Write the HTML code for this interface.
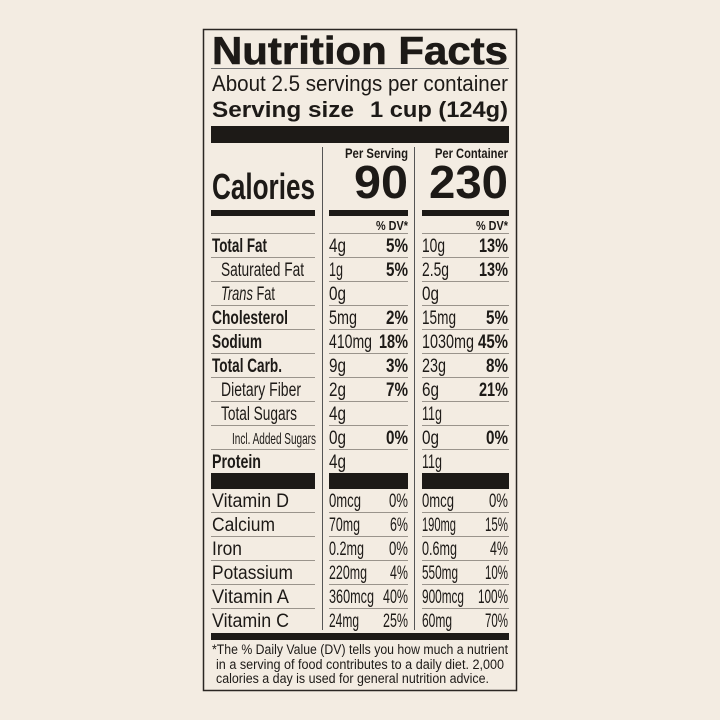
<!DOCTYPE html>
<html><head><meta charset="utf-8"><style>
html,body{margin:0;padding:0;background:#f3ece2;}
svg{display:block}
text{font-family:"Liberation Sans",sans-serif;fill:#1d1a17}
.b{font-weight:bold}
</style></head><body>
<svg width="720" height="720" viewBox="0 0 720 720">
<rect width="720" height="720" fill="#f3ece2"/>
<rect x="203.5" y="29.5" width="313" height="661" fill="none" stroke="#2a2622" stroke-width="1.5"/>
<text x="212" y="64" class="b" font-size="39" textLength="296" lengthAdjust="spacingAndGlyphs" stroke="#1d1a17" stroke-width="0.6">Nutrition Facts</text>
<rect x="211" y="68" width="298" height="1" fill="#777"/>
<text x="212" y="91" font-size="22" textLength="296" lengthAdjust="spacingAndGlyphs">About 2.5 servings per container</text>
<text x="212" y="117" class="b" font-size="22" textLength="142" lengthAdjust="spacingAndGlyphs">Serving size</text>
<text x="508" y="117" class="b" font-size="22" text-anchor="end" textLength="138" lengthAdjust="spacingAndGlyphs">1 cup (124g)</text>
<rect x="211" y="126" width="298" height="17" fill="#1d1a17"/>
<rect x="322" y="147" width="1" height="483" fill="#555"/>
<rect x="414" y="147" width="1" height="483" fill="#555"/>
<text x="408" y="158" class="b" font-size="14" text-anchor="end" textLength="63" lengthAdjust="spacingAndGlyphs">Per Serving</text>
<text x="508" y="158" class="b" font-size="14" text-anchor="end" textLength="73" lengthAdjust="spacingAndGlyphs">Per Container</text>
<text x="212" y="199" class="b" font-size="36" textLength="103" lengthAdjust="spacingAndGlyphs">Calories</text>
<text x="408" y="198" class="b" font-size="46" text-anchor="end" textLength="54" lengthAdjust="spacingAndGlyphs">90</text>
<text x="508" y="198" class="b" font-size="46" text-anchor="end" textLength="79" lengthAdjust="spacingAndGlyphs">230</text>
<rect x="211" y="210" width="104" height="6" fill="#1d1a17"/>
<rect x="329" y="210" width="79" height="6" fill="#1d1a17"/>
<rect x="422" y="210" width="87" height="6" fill="#1d1a17"/>
<text x="408" y="230" class="b" font-size="13" text-anchor="end" textLength="32" lengthAdjust="spacingAndGlyphs">% DV*</text>
<text x="508" y="230" class="b" font-size="13" text-anchor="end" textLength="32" lengthAdjust="spacingAndGlyphs">% DV*</text>
<g fill="#9a948c">
<rect x="211" y="233" width="104" height="1"/><rect x="329" y="233" width="79" height="1"/><rect x="422" y="233" width="87" height="1"/>
</g>
<g id="rows" font-size="19">
<text x="212" y="252" class="b" textLength="55" lengthAdjust="spacingAndGlyphs">Total Fat</text>
<text x="329" y="252" textLength="17" lengthAdjust="spacingAndGlyphs">4g</text>
<text x="408" y="252" class="b" text-anchor="end" textLength="22" lengthAdjust="spacingAndGlyphs">5%</text>
<text x="422" y="252" textLength="23" lengthAdjust="spacingAndGlyphs">10g</text>
<text x="508" y="252" class="b" text-anchor="end" textLength="29" lengthAdjust="spacingAndGlyphs">13%</text>

<text x="221" y="276" textLength="83" lengthAdjust="spacingAndGlyphs">Saturated Fat</text>
<text x="329" y="276" textLength="14" lengthAdjust="spacingAndGlyphs">1g</text>
<text x="408" y="276" class="b" text-anchor="end" textLength="22" lengthAdjust="spacingAndGlyphs">5%</text>
<text x="422" y="276" textLength="27" lengthAdjust="spacingAndGlyphs">2.5g</text>
<text x="508" y="276" class="b" text-anchor="end" textLength="29" lengthAdjust="spacingAndGlyphs">13%</text>

<text x="221" y="300" textLength="54" lengthAdjust="spacingAndGlyphs"><tspan font-style="italic">Trans</tspan> Fat</text>
<text x="329" y="300" textLength="17" lengthAdjust="spacingAndGlyphs">0g</text>
<text x="422" y="300" textLength="17" lengthAdjust="spacingAndGlyphs">0g</text>

<text x="212" y="324" class="b" textLength="76" lengthAdjust="spacingAndGlyphs">Cholesterol</text>
<text x="329" y="324" textLength="28" lengthAdjust="spacingAndGlyphs">5mg</text>
<text x="408" y="324" class="b" text-anchor="end" textLength="22" lengthAdjust="spacingAndGlyphs">2%</text>
<text x="422" y="324" textLength="34" lengthAdjust="spacingAndGlyphs">15mg</text>
<text x="508" y="324" class="b" text-anchor="end" textLength="22" lengthAdjust="spacingAndGlyphs">5%</text>

<text x="212" y="348" class="b" textLength="50" lengthAdjust="spacingAndGlyphs">Sodium</text>
<text x="329" y="348" textLength="43" lengthAdjust="spacingAndGlyphs">410mg</text>
<text x="408" y="348" class="b" text-anchor="end" textLength="29" lengthAdjust="spacingAndGlyphs">18%</text>
<text x="422" y="348" textLength="52" lengthAdjust="spacingAndGlyphs">1030mg</text>
<text x="508" y="348" class="b" text-anchor="end" textLength="30" lengthAdjust="spacingAndGlyphs">45%</text>

<text x="212" y="372" class="b" textLength="70" lengthAdjust="spacingAndGlyphs">Total Carb.</text>
<text x="329" y="372" textLength="17" lengthAdjust="spacingAndGlyphs">9g</text>
<text x="408" y="372" class="b" text-anchor="end" textLength="22" lengthAdjust="spacingAndGlyphs">3%</text>
<text x="422" y="372" textLength="24" lengthAdjust="spacingAndGlyphs">23g</text>
<text x="508" y="372" class="b" text-anchor="end" textLength="22" lengthAdjust="spacingAndGlyphs">8%</text>

<text x="221" y="396" textLength="80" lengthAdjust="spacingAndGlyphs">Dietary Fiber</text>
<text x="329" y="396" textLength="17" lengthAdjust="spacingAndGlyphs">2g</text>
<text x="408" y="396" class="b" text-anchor="end" textLength="22" lengthAdjust="spacingAndGlyphs">7%</text>
<text x="422" y="396" textLength="17" lengthAdjust="spacingAndGlyphs">6g</text>
<text x="508" y="396" class="b" text-anchor="end" textLength="29" lengthAdjust="spacingAndGlyphs">21%</text>

<text x="221" y="420" textLength="76" lengthAdjust="spacingAndGlyphs">Total Sugars</text>
<text x="329" y="420" textLength="17" lengthAdjust="spacingAndGlyphs">4g</text>
<text x="422" y="420" textLength="20" lengthAdjust="spacingAndGlyphs">11g</text>

<text x="232" y="444" font-size="16" textLength="84" lengthAdjust="spacingAndGlyphs">Incl. Added Sugars</text>
<text x="329" y="444" textLength="17" lengthAdjust="spacingAndGlyphs">0g</text>
<text x="408" y="444" class="b" text-anchor="end" textLength="22" lengthAdjust="spacingAndGlyphs">0%</text>
<text x="422" y="444" textLength="17" lengthAdjust="spacingAndGlyphs">0g</text>
<text x="508" y="444" class="b" text-anchor="end" textLength="22" lengthAdjust="spacingAndGlyphs">0%</text>

<text x="212" y="468" class="b" textLength="49" lengthAdjust="spacingAndGlyphs">Protein</text>
<text x="329" y="468" textLength="17" lengthAdjust="spacingAndGlyphs">4g</text>
<text x="422" y="468" textLength="20" lengthAdjust="spacingAndGlyphs">11g</text>
</g>
<g fill="#9a948c">
<rect x="211" y="257" width="104" height="1"/><rect x="329" y="257" width="79" height="1"/><rect x="422" y="257" width="87" height="1"/>
<rect x="211" y="281" width="104" height="1"/><rect x="329" y="281" width="79" height="1"/><rect x="422" y="281" width="87" height="1"/>
<rect x="211" y="305" width="104" height="1"/><rect x="329" y="305" width="79" height="1"/><rect x="422" y="305" width="87" height="1"/>
<rect x="211" y="329" width="104" height="1"/><rect x="329" y="329" width="79" height="1"/><rect x="422" y="329" width="87" height="1"/>
<rect x="211" y="353" width="104" height="1"/><rect x="329" y="353" width="79" height="1"/><rect x="422" y="353" width="87" height="1"/>
<rect x="211" y="377" width="104" height="1"/><rect x="329" y="377" width="79" height="1"/><rect x="422" y="377" width="87" height="1"/>
<rect x="211" y="401" width="104" height="1"/><rect x="329" y="401" width="79" height="1"/><rect x="422" y="401" width="87" height="1"/>
<rect x="211" y="425" width="104" height="1"/><rect x="329" y="425" width="79" height="1"/><rect x="422" y="425" width="87" height="1"/>
<rect x="211" y="449" width="104" height="1"/><rect x="329" y="449" width="79" height="1"/><rect x="422" y="449" width="87" height="1"/>
<rect x="211" y="512" width="104" height="1"/><rect x="329" y="512" width="79" height="1"/><rect x="422" y="512" width="87" height="1"/>
<rect x="211" y="536" width="104" height="1"/><rect x="329" y="536" width="79" height="1"/><rect x="422" y="536" width="87" height="1"/>
<rect x="211" y="560" width="104" height="1"/><rect x="329" y="560" width="79" height="1"/><rect x="422" y="560" width="87" height="1"/>
<rect x="211" y="584" width="104" height="1"/><rect x="329" y="584" width="79" height="1"/><rect x="422" y="584" width="87" height="1"/>
<rect x="211" y="608" width="104" height="1"/><rect x="329" y="608" width="79" height="1"/><rect x="422" y="608" width="87" height="1"/>
</g>
<rect x="211" y="473" width="104" height="16" fill="#1d1a17"/>
<rect x="329" y="473" width="79" height="16" fill="#1d1a17"/>
<rect x="422" y="473" width="87" height="16" fill="#1d1a17"/>
<g font-size="19">
<text x="212" y="507" font-size="19" textLength="77" lengthAdjust="spacingAndGlyphs">Vitamin D</text>
<text x="329" y="507" textLength="32" lengthAdjust="spacingAndGlyphs">0mcg</text>
<text x="408" y="507" text-anchor="end" textLength="19" lengthAdjust="spacingAndGlyphs">0%</text>
<text x="422" y="507" textLength="32" lengthAdjust="spacingAndGlyphs">0mcg</text>
<text x="508" y="507" text-anchor="end" textLength="19" lengthAdjust="spacingAndGlyphs">0%</text>

<text x="212" y="531" font-size="19" textLength="63" lengthAdjust="spacingAndGlyphs">Calcium</text>
<text x="329" y="531" textLength="31" lengthAdjust="spacingAndGlyphs">70mg</text>
<text x="408" y="531" text-anchor="end" textLength="18" lengthAdjust="spacingAndGlyphs">6%</text>
<text x="422" y="531" textLength="34" lengthAdjust="spacingAndGlyphs">190mg</text>
<text x="508" y="531" text-anchor="end" textLength="23" lengthAdjust="spacingAndGlyphs">15%</text>

<text x="212" y="555" font-size="19" textLength="30" lengthAdjust="spacingAndGlyphs">Iron</text>
<text x="329" y="555" textLength="35" lengthAdjust="spacingAndGlyphs">0.2mg</text>
<text x="408" y="555" text-anchor="end" textLength="19" lengthAdjust="spacingAndGlyphs">0%</text>
<text x="422" y="555" textLength="35" lengthAdjust="spacingAndGlyphs">0.6mg</text>
<text x="508" y="555" text-anchor="end" textLength="18" lengthAdjust="spacingAndGlyphs">4%</text>

<text x="212" y="579" font-size="19" textLength="81" lengthAdjust="spacingAndGlyphs">Potassium</text>
<text x="329" y="579" textLength="38" lengthAdjust="spacingAndGlyphs">220mg</text>
<text x="408" y="579" text-anchor="end" textLength="18" lengthAdjust="spacingAndGlyphs">4%</text>
<text x="422" y="579" textLength="36" lengthAdjust="spacingAndGlyphs">550mg</text>
<text x="508" y="579" text-anchor="end" textLength="23" lengthAdjust="spacingAndGlyphs">10%</text>

<text x="212" y="603" font-size="19" textLength="77" lengthAdjust="spacingAndGlyphs">Vitamin A</text>
<text x="329" y="603" textLength="45" lengthAdjust="spacingAndGlyphs">360mcg</text>
<text x="408" y="603" text-anchor="end" textLength="25" lengthAdjust="spacingAndGlyphs">40%</text>
<text x="422" y="603" textLength="42" lengthAdjust="spacingAndGlyphs">900mcg</text>
<text x="508" y="603" text-anchor="end" textLength="30" lengthAdjust="spacingAndGlyphs">100%</text>

<text x="212" y="627" font-size="19" textLength="77" lengthAdjust="spacingAndGlyphs">Vitamin C</text>
<text x="329" y="627" textLength="30" lengthAdjust="spacingAndGlyphs">24mg</text>
<text x="408" y="627" text-anchor="end" textLength="25" lengthAdjust="spacingAndGlyphs">25%</text>
<text x="422" y="627" textLength="30" lengthAdjust="spacingAndGlyphs">60mg</text>
<text x="508" y="627" text-anchor="end" textLength="23" lengthAdjust="spacingAndGlyphs">70%</text>
</g>
<rect x="211" y="633" width="298" height="7" fill="#1d1a17"/>
<g font-size="13.5">
<text x="212" y="654" textLength="296" lengthAdjust="spacingAndGlyphs">*The % Daily Value (DV) tells you how much a nutrient</text>
<text x="216" y="669" textLength="288" lengthAdjust="spacingAndGlyphs">in a serving of food contributes to a daily diet. 2,000</text>
<text x="216" y="683" textLength="273" lengthAdjust="spacingAndGlyphs">calories a day is used for general nutrition advice.</text>
</g>
</svg>
</body></html>
